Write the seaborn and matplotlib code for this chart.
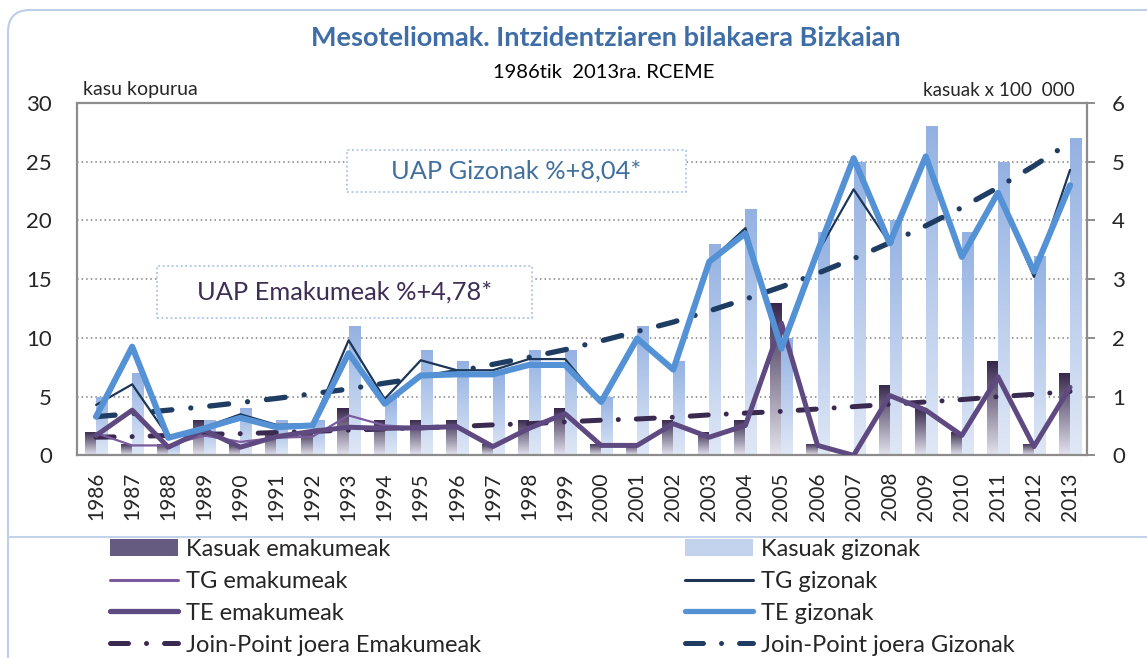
import numpy as np
import pandas as pd
import matplotlib
matplotlib.use("Agg")
import matplotlib.pyplot as plt
from matplotlib.colors import LinearSegmentedColormap
from matplotlib.lines import Line2D
from matplotlib.patches import Patch, Rectangle, FancyBboxPatch
import seaborn as sns

# data
years = ["1986", "1987", "1988", "1989", "1990", "1991", "1992", "1993", "1994", "1995",
         "1996", "1997", "1998", "1999", "2000", "2001", "2002", "2003", "2004", "2005",
         "2006", "2007", "2008", "2009", "2010", "2011", "2012", "2013"]
cases_women = [2, 1, 1, 3, 1, 2, 2, 4, 3, 3, 3, 1, 3, 4, 1, 1, 3, 2, 3, 13, 1, 0, 6, 4, 2, 8, 1, 7]
cases_men = [5, 7, 1, 3, 4, 3, 3, 11, 5, 9, 8, 7, 9, 9, 5, 11, 8, 18, 21, 10, 19, 25, 20, 28, 19, 25, 17, 27]
tg_women = [0.38, 0.17, 0.17, 0.34, 0.23, 0.30, 0.32, 0.68, 0.51, 0.47, 0.49, 0.15, 0.46, 0.71,
            0.17, 0.17, 0.54, 0.31, 0.51, 2.25, 0.17, 0.00, 1.02, 0.77, 0.34, 1.34, 0.15, 1.16]
te_women = [0.34, 0.77, 0.14, 0.43, 0.14, 0.32, 0.41, 0.48, 0.46, 0.47, 0.49, 0.15, 0.46, 0.71,
            0.17, 0.17, 0.54, 0.31, 0.51, 2.25, 0.17, 0.00, 1.02, 0.77, 0.34, 1.34, 0.15, 1.16]
tg_men = [0.86, 1.21, 0.32, 0.48, 0.70, 0.52, 0.53, 1.96, 0.96, 1.62, 1.45, 1.45, 1.64, 1.64,
          0.91, 2.00, 1.46, 3.30, 3.87, 1.82, 3.45, 4.53, 3.61, 5.09, 3.38, 4.47, 3.04, 4.86]
te_men = [0.66, 1.85, 0.30, 0.46, 0.64, 0.48, 0.51, 1.74, 0.88, 1.36, 1.38, 1.38, 1.54, 1.54,
          0.91, 1.99, 1.46, 3.30, 3.78, 1.82, 3.47, 5.06, 3.61, 5.09, 3.38, 4.47, 3.13, 4.60]
jp_women = [0.31, 0.32, 0.34, 0.36, 0.37, 0.39, 0.41, 0.43, 0.45, 0.47, 0.49, 0.52, 0.54, 0.57,
            0.60, 0.62, 0.65, 0.69, 0.72, 0.75, 0.79, 0.83, 0.87, 0.91, 0.95, 1.00, 1.04, 1.09]
jp_men = [0.66, 0.71, 0.77, 0.83, 0.90, 0.97, 1.05, 1.13, 1.23, 1.32, 1.43, 1.55, 1.67, 1.80,
          1.95, 2.11, 2.27, 2.46, 2.66, 2.87, 3.10, 3.35, 3.62, 3.91, 4.22, 4.56, 4.93, 5.33]

lbl_cw, lbl_cm = "Kasuak emakumeak", "Kasuak gizonak"

bars = pd.DataFrame({
    "urtea": years * 2,
    "kasuak": cases_women + cases_men,
    "taldea": [lbl_cw] * len(years) + [lbl_cm] * len(years),
})
pos = np.arange(len(years))

sns.set_style("white")
plt.rcParams["font.family"] = ["Lato", "DejaVu Sans"]

W, H = 1147, 658
fig = plt.figure(figsize=(W / 100, H / 100), dpi=100)
ax = fig.add_axes([77 / W, 1 - 455.4 / H, 1010 / W, 352.4 / H])

sns.barplot(data=bars, x="urtea", y="kasuak", hue="taldea", order=years,
            hue_order=[lbl_cw, lbl_cm], palette=["#4a3d60", "#a9c0e8"],
            width=0.62, gap=0, legend=False, ax=ax, zorder=2)

grad = np.linspace(0, 1, 256).reshape(-1, 1)
bar_cols = [("#e3e3ee", "#36274a"), ("#e0e8f6", "#93b1e2")]
for cont, (c_bot, c_top) in zip(ax.containers, bar_cols):
    cmap = LinearSegmentedColormap.from_list("g", [c_bot, c_top])
    for b in cont:
        h = b.get_height()
        if h <= 0:
            continue
        x0 = b.get_x()
        im = ax.imshow(grad, cmap=cmap, origin="lower", aspect="auto",
                       extent=(x0, x0 + b.get_width(), 0, h), zorder=2)
        im.set_clip_path(b)
        b.set_facecolor("none")
        b.set_edgecolor("none")

ax.set_xlim(-0.53, 27.47)
ax.set_ylim(0, 30)
ax.set_yticks(range(0, 31, 5))
ax.set_xlabel("")
ax.set_ylabel("")
ax.grid(axis="y", color="#808080", linestyle=(0, (1, 2)), linewidth=1.1, zorder=0)
ax.set_axisbelow(True)
ax.tick_params(axis="x", rotation=90, length=0, pad=12, labelsize=15)
ax.tick_params(axis="y", length=0, pad=18, labelsize=16)
for s in ["left", "bottom", "right"]:
    ax.spines[s].set_color("#8c8c8c")
    ax.spines[s].set_linewidth(1.6)
ax.spines["top"].set_color("#8c8c8c")
ax.spines["top"].set_linestyle((0, (1, 1)))
ax.spines["top"].set_linewidth(1.6)

ax2 = ax.twinx()
jp_style = (0, (3.6, 3.6, 0.01, 3.6))
line_specs = [
    (jp_women, "#3b2a4f", 3.6, jp_style),
    (jp_men, "#1f3d63", 3.8, jp_style),
    (tg_women, "#7a5c9e", 1.6, "-"),
    (te_women, "#5e4a80", 3.6, "-"),
    (tg_men, "#1d3557", 1.6, "-"),
    (te_men, "#5592d5", 4.4, "-"),
]
for vals, col, lw, ls in line_specs:
    sns.lineplot(x=pos, y=vals, ax=ax2, color=col, linewidth=lw, linestyle=ls,
                 solid_joinstyle="round", solid_capstyle="round",
                 dash_capstyle="round", legend=False)
ax2.set_ylim(0, 6)
ax2.set_yticks(range(0, 7))
ax2.set_ylabel("")
ax2.tick_params(axis="y", length=6, width=1.4, color="#8c8c8c", pad=12, labelsize=16)
for s in ax2.spines.values():
    s.set_visible(False)
ax.set_xlim(-0.53, 27.47)

# titles and axis captions
fig.text(606 / W, 1 - 38 / H, "Mesoteliomak. Intzidentziaren bilakaera Bizkaian",
         ha="center", va="center", fontsize=19.5, fontweight="bold", color="#3f6ea6")
fig.text(604 / W, 1 - 72 / H, "1986tik  2013ra. RCEME", ha="center", va="center",
         fontsize=14.5, color="black")
fig.text(83 / W, 1 - 90 / H, "kasu kopurua", ha="left", va="center", fontsize=14)
fig.text(1075 / W, 1 - 90 / H, "kasuak x 100  000", ha="right", va="center", fontsize=13.6)

# annual percent change boxes
for (x0, y0, x1, y1), txt, col in [((347, 150, 686, 192), "UAP Gizonak %+8,04*", "#41709f"),
                                   ((157, 266, 532, 318), "UAP Emakumeak %+4,78*", "#3e2e55")]:
    fig.add_artist(Rectangle((x0 / W, 1 - y1 / H), (x1 - x0) / W, (y1 - y0) / H,
                             transform=fig.transFigure, facecolor="white",
                             edgecolor="#a9c4e6", linestyle=(0, (1, 1.5)), linewidth=1.3, zorder=5))
    fig.text((x0 + x1) / 2 / W, 1 - (y0 + y1) / 2 / H, txt, ha="center", va="center",
             fontsize=18.3, color=col, zorder=6)

# outer frame and legend separator
fig.add_artist(FancyBboxPatch((0.08, -1), 13, 6.58 - 0.10 + 1,
                              boxstyle="round,pad=0,rounding_size=0.22",
                              transform=fig.dpi_scale_trans, facecolor="none",
                              edgecolor="#bccfe6", linewidth=1.5, zorder=0))
fig.add_artist(Line2D([8 / W, 1], [1 - 537 / H, 1 - 537 / H], transform=fig.transFigure,
                      color="#c3d4ea", linewidth=1.5))

left_handles = [
    Patch(facecolor="#655a80", edgecolor="none"),
    Line2D([], [], color="#7a5c9e", linewidth=2.2),
    Line2D([], [], color="#5e4a80", linewidth=3.8, solid_capstyle="round"),
    Line2D([], [], color="#3b2a4f", linewidth=3.6, linestyle=jp_style, dash_capstyle="round"),
]
left_labels = ["Kasuak emakumeak", "TG emakumeak", "TE emakumeak", "Join-Point joera Emakumeak"]
right_handles = [
    Patch(facecolor="#c3d3ee", edgecolor="none"),
    Line2D([], [], color="#1d3557", linewidth=2.2),
    Line2D([], [], color="#5592d5", linewidth=3.8, solid_capstyle="round"),
    Line2D([], [], color="#1f3d63", linewidth=3.6, linestyle=jp_style, dash_capstyle="round"),
]
right_labels = ["Kasuak gizonak", "TG gizonak", "TE gizonak", "Join-Point joera Gizonak"]
for hs, ls_, x in [(left_handles, left_labels, 110), (right_handles, right_labels, 685)]:
    fig.legend(hs, ls_, loc="upper left", bbox_to_anchor=(x / W, 1 - 539 / H),
               frameon=False, fontsize=17, handlelength=2.9, handletextpad=0.3,
               labelspacing=0.46, borderpad=0, borderaxespad=0)

fig.savefig("out.png", dpi=100)
